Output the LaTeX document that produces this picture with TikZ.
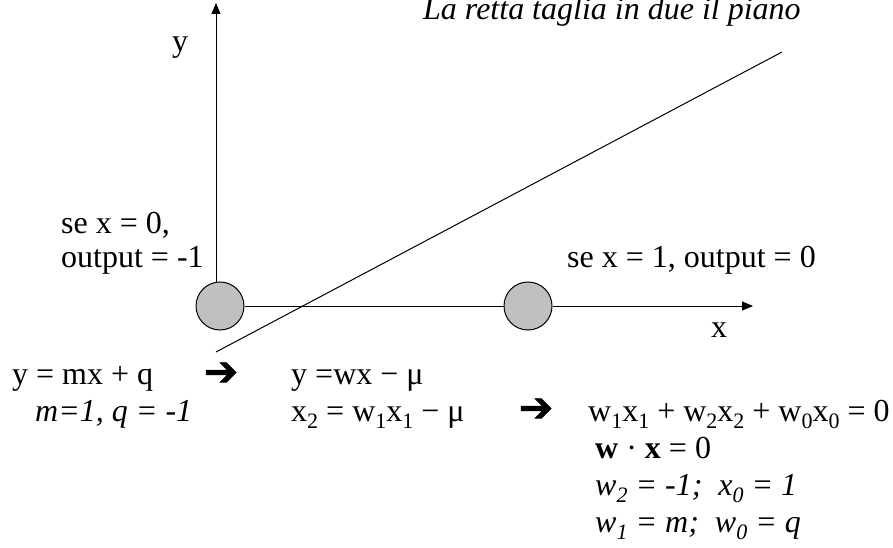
\documentclass[tikz,border=0pt]{standalone}
\usepackage{fontspec}
\setmainfont{Liberation Serif}
\newfontfamily\symfont[FakeBold=1.5]{DejaVu Sans}
\usetikzlibrary{arrows.meta}
\newcommand\lo[1]{\raisebox{-0.22em}{\fontsize{22}{22}\selectfont #1}}
\definecolor{ballgray}{HTML}{C0C0C0}
\begin{document}
\begin{tikzpicture}[x=1pt,y=-1pt,
  txt/.style={anchor=base west,inner sep=0pt,font=\fontsize{32}{36}\selectfont},
  itxt/.style={txt,font=\fontsize{32}{36}\selectfont\itshape},
  ball/.style={circle,draw=black,fill=ballgray,minimum size=48pt,inner sep=0pt,line width=1pt},
  ax/.style={line width=1pt,-{Triangle[length=11pt,width=9pt]}},
  thin line/.style={line width=1pt},
  bigarrow/.style={inner sep=0pt,font=\symfont\bfseries\fontsize{41}{41}\selectfont}]
\useasboundingbox (0,0) rectangle (893,548);
% points
\node[ball] (c1) at (220,306) {};
\node[ball] (c2) at (528,306) {};
\coordinate (yb) at (216,282);
\coordinate (yt) at (216,3);
\coordinate (xt) at (753,306);
\coordinate (la) at (216,352);
\coordinate (lb) at (782,52);
% axes
\draw[ax] (yb) -- (yt);
\draw[thin line] (c1.east) -- (c2.west);
\draw[ax] (c2.east) -- (xt);
\draw[thin line] (la) -- (lb);
% labels
\node[itxt] (title) at (423,20) {La retta taglia in due il piano};
\node[txt,anchor=base] (ylab) at (180,52) {y};
\node[txt,anchor=base] (xlab) at (719,337) {x};
\node[txt] (s0a) at (61,233) {se x = 0,};
\node[txt] (s0b) at (61,267) {output = -1};
\node[txt] (s1) at (567,267) {se x = 1, output = 0};
% equations
\node[txt] (e1) at (12,384) {y = mx + q};
\node[bigarrow] (a1) at (221,374) {➔};
\node[txt] (e2) at (291,384) {y =wx − μ};
\node[itxt] (e1b) at (35,421) {m=1, q = -1};
\node[txt] (e2b) at (291,421) {x\lo{2} = w\lo{1}x\lo{1} − μ};
\node[bigarrow] (a2) at (536,410) {➔};
\node[txt] (e3) at (588,421) {w\lo{1}x\lo{1} + w\lo{2}x\lo{2} + w\lo{0}x\lo{0} = 0};
\node[txt] (e4) at (595,458) {\textbf{w} · \textbf{x} = 0};
\node[itxt] (e5) at (595,495) {w\lo{2} = -1;\ \ x\lo{0} = 1};
\node[itxt] (e6) at (595,532) {w\lo{1} = m;\ \ w\lo{0} = q};
\end{tikzpicture}
\end{document}
